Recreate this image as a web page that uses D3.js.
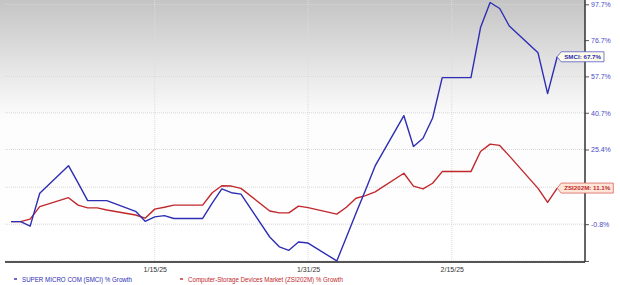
<!DOCTYPE html>
<html>
<head>
<meta charset="utf-8">
<script src="https://cdn.jsdelivr.net/npm/d3@7"></script>
<style>
body { margin: 0; background: #fff; }
svg { display: block; font-family: "Liberation Sans", Arial, sans-serif; }
</style>
</head>
<body>
<div id="chart"></div>
<script>
// daily closes (weekdays), % growth since 12/31/24
var dates = ["2024-12-31", "2025-01-01", "2025-01-02", "2025-01-03",
  "2025-01-06", "2025-01-07", "2025-01-08", "2025-01-09", "2025-01-10",
  "2025-01-13", "2025-01-14", "2025-01-15", "2025-01-16", "2025-01-17",
  "2025-01-20", "2025-01-21", "2025-01-22", "2025-01-23", "2025-01-24",
  "2025-01-27", "2025-01-28", "2025-01-29", "2025-01-30", "2025-01-31",
  "2025-02-03", "2025-02-04", "2025-02-05", "2025-02-06", "2025-02-07",
  "2025-02-10", "2025-02-11", "2025-02-12", "2025-02-13", "2025-02-14",
  "2025-02-17", "2025-02-18", "2025-02-19", "2025-02-20", "2025-02-21",
  "2025-02-24", "2025-02-25", "2025-02-26"];

var smciGrowth = [0, 0, -1.4, 9.3,
  19.2, 12.9, 6.8, 6.8, 6.8,
  3.3, 0.1, 1.5, 1.9, 1.0,
  1.0, 6.0, 10.8, 9.5, 9.0,
  -4.7, -7.6, -8.6, -6.2, -6.5,
  -11.6, -4.8, 2.7, 10.4, 19.1,
  39.4, 26.6, 29.9, 38.4, 57.1,
  57.1, 83.8, 98.8, 95.1, 84.7,
  69.8, 49.4, 67.7];

var zsiGrowth = [0, 0, 0.8, 4.8,
  7.8, 5.3, 4.4, 4.4, 3.7,
  2.1, 1.1, 4.0, 4.6, 5.3,
  5.3, 9.5, 11.9, 11.8, 11.0,
  3.4, 2.8, 2.8, 5.0, 4.5,
  2.4, 4.6, 7.6, 8.5, 9.8,
  16.4, 11.8, 10.8, 12.8, 17.0,
  17.0, 24.6, 27.5, 27.0, 22.9,
  11.0, 6.2, 11.1];

var yTickValues = [97.7, 76.7, 57.7, 40.7, 25.4, 11.4, -0.8, -11.6];
var yTickLabels = ["97.7%", "76.7%", "57.7%", "40.7%", "25.4%", "", "-0.8%", ""];
var xTickDates = ["2025-01-15", "2025-01-31", "2025-02-15"];
var xTickLabels = ["1/15/25", "1/31/25", "2/15/25"];
var seriesNames = ["SUPER MICRO COM (SMCI) % Growth", "Computer-Storage Devices Market (ZSI202M) % Growth"];
var calloutNames = ["SMCI", "ZSI202M"];

var svgWidth = 620;
var svgHeight = 285;
var plotLeft = 5, plotRight = 585, plotTop = 0, plotBottom = 262;

var blue = "#2e2eb4";
var red = "#c0282c";

var parse = d3.utcParse("%Y-%m-%d");

var svg = d3.select("#chart")
  .append("svg")
  .attr("width", svgWidth)
  .attr("height", svgHeight);

var defs = svg.append("defs");
var grad = defs.append("linearGradient")
  .attr("id", "bg")
  .attr("x1", 0).attr("y1", 0).attr("x2", 0).attr("y2", 1);
grad.append("stop").attr("offset", "0%").attr("stop-color", "#c4c4c4");
grad.append("stop").attr("offset", "44%").attr("stop-color", "#fcfcfc");
grad.append("stop").attr("offset", "100%").attr("stop-color", "#ffffff");

svg.append("rect")
  .attr("x", 0).attr("y", plotTop)
  .attr("width", plotRight).attr("height", plotBottom - plotTop)
  .attr("fill", "url(#bg)");

var x = d3.scaleUtc()
  .domain([parse(dates[0]), parse(dates[dates.length - 1])])
  .range([11, 557.2]);

// growth is plotted on a log scale of (1 + growth)
var y = d3.scaleLog()
  .domain([1 - 0.8 / 100, 1 + 97.7 / 100])
  .range([224.2, 4.3]);

function yPct(v) { return y(1 + v / 100); }

// horizontal grid
svg.append("g")
  .selectAll("line")
  .data(yTickValues)
  .enter()
  .append("line")
  .attr("x1", plotLeft).attr("x2", plotRight)
  .attr("y1", d => yPct(d)).attr("y2", d => yPct(d))
  .attr("stroke", "#d8d8d8")
  .attr("stroke-width", 1)
  .attr("stroke-dasharray", "1,1");

// vertical grid
svg.append("g")
  .selectAll("line")
  .data(xTickDates)
  .enter()
  .append("line")
  .attr("x1", d => x(parse(d))).attr("x2", d => x(parse(d)))
  .attr("y1", plotTop).attr("y2", plotBottom)
  .attr("stroke", "#dcdcdc")
  .attr("stroke-width", 1)
  .attr("stroke-dasharray", "1,1");

// bottom axis
var xAxis = d3.axisBottom(x)
  .tickValues(xTickDates.map(parse))
  .tickSize(0)
  .tickPadding(5)
  .tickFormat((d, i) => xTickLabels[i]);

var xg = svg.append("g")
  .attr("transform", "translate(0," + plotBottom + ")")
  .call(xAxis);
xg.select(".domain").remove();
xg.selectAll("text")
  .attr("fill", "#333")
  .attr("font-size", "7px")
  .attr("font-family", "Liberation Sans, Arial, sans-serif");

svg.append("line")
  .attr("x1", plotLeft).attr("x2", plotRight)
  .attr("y1", plotBottom).attr("y2", plotBottom)
  .attr("stroke", "#555")
  .attr("stroke-width", 2);

// right axis
var yAxis = d3.axisRight(y)
  .tickValues(yTickValues.map(v => 1 + v / 100))
  .tickSize(4)
  .tickPadding(2)
  .tickFormat((d, i) => yTickLabels[i]);

var yg = svg.append("g")
  .attr("transform", "translate(" + plotRight + ",0)")
  .call(yAxis);
yg.select(".domain").remove();
yg.selectAll(".tick line").attr("stroke", "#555");
yg.selectAll("text")
  .attr("fill", "#4b4bc4")
  .attr("font-size", "7px")
  .attr("font-family", "Liberation Sans, Arial, sans-serif");

svg.append("line")
  .attr("x1", plotRight).attr("x2", plotRight)
  .attr("y1", 0).attr("y2", plotBottom)
  .attr("stroke", "#333")
  .attr("stroke-width", 1.5);

// series lines
var line = d3.line()
  .x((d, i) => x(parse(dates[i])))
  .y(d => yPct(d));

svg.append("path")
  .datum(zsiGrowth)
  .attr("fill", "none")
  .attr("stroke", red)
  .attr("stroke-width", 1.4)
  .attr("stroke-linejoin", "round")
  .attr("d", line);

svg.append("path")
  .datum(smciGrowth)
  .attr("fill", "none")
  .attr("stroke", blue)
  .attr("stroke-width", 1.4)
  .attr("stroke-linejoin", "round")
  .attr("d", line);

// end-of-line callouts
var callouts = [
  {name: calloutNames[0], v: smciGrowth[smciGrowth.length - 1], stroke: "#5a5ad0", fill: "#fdfde8", text: blue},
  {name: calloutNames[1], v: zsiGrowth[zsiGrowth.length - 1], stroke: "#d86060", fill: "#fde6d8", text: red}
];

callouts.forEach(function(c) {
  var cx = x(parse(dates[dates.length - 1]));
  var cy = yPct(c.v);
  var g = svg.append("g");
  var path = g.append("path");
  var t = g.append("text")
    .attr("x", cx + 7)
    .attr("y", cy + 2.2)
    .attr("font-size", "6.2px")
    .attr("font-weight", "bold")
    .attr("fill", c.text)
    .text(c.name + ": " + c.v.toFixed(1) + "%");
  var w = t.node().getComputedTextLength();
  var left = cx + 4, right = cx + 10 + w, top = cy - 5, bottom = cy + 5;
  path.attr("d", "M" + cx + "," + cy + "L" + left + "," + top + "L" + right + "," + top +
      "L" + right + "," + bottom + "L" + left + "," + bottom + "Z")
    .attr("fill", c.fill)
    .attr("stroke", c.stroke)
    .attr("stroke-width", 0.8);
});

// legend
var legendX = [14, 180];
var legendW = [110, 155];
var legendColors = [blue, red];
seriesNames.forEach(function(name, i) {
  svg.append("line")
    .attr("x1", legendX[i]).attr("x2", legendX[i] + 3)
    .attr("y1", 279).attr("y2", 279)
    .attr("stroke", legendColors[i])
    .attr("stroke-width", 1.4);
  svg.append("text")
    .attr("x", legendX[i] + 8)
    .attr("y", 281.5)
    .attr("font-size", "7px")
    .attr("fill", legendColors[i])
    .attr("textLength", legendW[i])
    .attr("lengthAdjust", "spacingAndGlyphs")
    .text(name);
});
</script>
</body>
</html>
